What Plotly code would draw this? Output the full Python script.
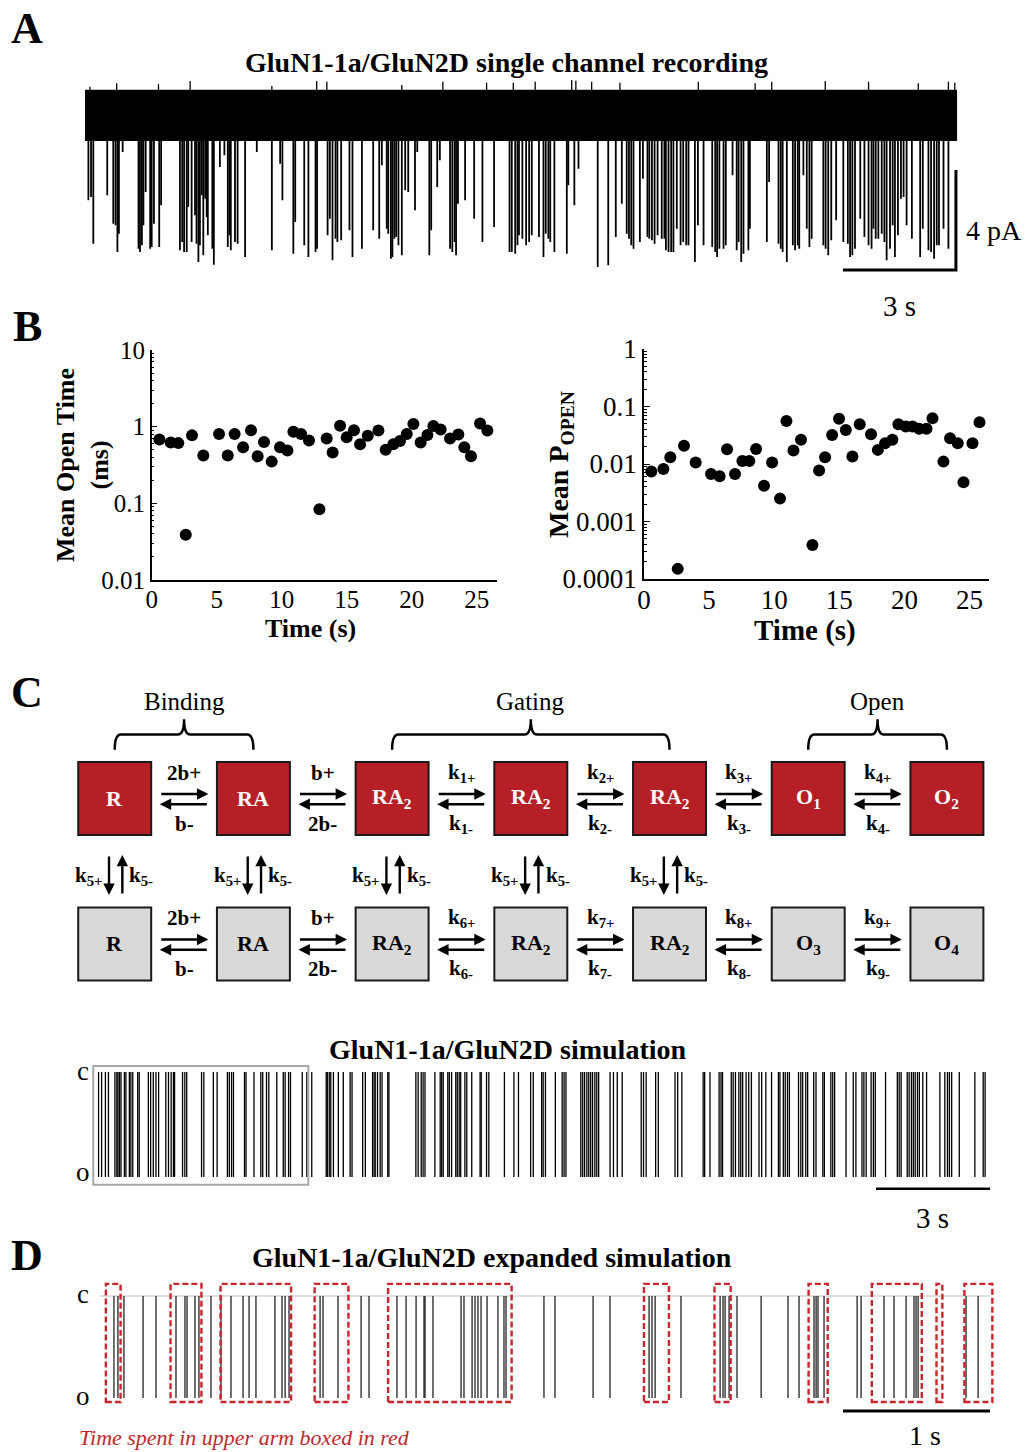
import plotly.graph_objects as go

W, H = 1030, 1452
FONT = "Liberation Serif"
RED = "#b71f27"
BOX_RED = "#c8272d"


def fx(p):
    return p / W


def fy(p):
    return 1 - p / H


# ---------------- Panel A: single channel recording ----------------
# (time s, peak current pA) for each resolved opening below the noise band
recording_openings = [
    (0.09, -3.37), (0.16, -3.24), (0.22, -5.11), (0.59, -3.17), (0.75, -4.31), (0.81, -4.37),
    (0.86, -5.44), (0.90, -4.71), (1.00, -1.44), (1.42, -5.31), (1.46, -5.44), (1.51, -5.17),
    (1.55, -4.37), (1.61, -3.04), (1.73, -5.31), (1.77, -5.24), (1.83, -4.31), (1.97, -5.24),
    (2.02, -3.57), (2.52, -5.37), (2.58, -5.04), (2.63, -5.44), (2.70, -5.44), (2.74, -3.64),
    (2.83, -5.04), (2.92, -3.97), (2.96, -5.11), (3.01, -5.84), (3.05, -5.17), (3.10, -3.17),
    (3.14, -5.57), (3.19, -3.31), (3.23, -4.04), (3.26, -4.77), (3.38, -5.31), (3.42, -5.95),
    (3.58, -2.04), (3.70, -1.57), (3.79, -5.24), (3.83, -4.77), (3.87, -5.37), (3.98, -5.04),
    (4.05, -5.11), (4.25, -5.64), (4.56, -1.44), (4.96, -5.37), (5.18, -1.91), (5.24, -3.37),
    (5.53, -5.51), (5.58, -4.24), (5.82, -5.17), (5.93, -5.64), (6.12, -5.44), (6.16, -5.31),
    (6.44, -4.77), (6.50, -4.11), (6.57, -5.77), (6.65, -4.91), (6.70, -5.04), (6.80, -4.97),
    (7.02, -4.57), (7.10, -5.64), (7.35, -5.31), (7.65, -4.57), (7.81, -4.91), (7.88, -1.97),
    (8.01, -4.51), (8.05, -4.71), (8.12, -5.71), (8.16, -5.64), (8.21, -4.91), (8.26, -4.84),
    (8.32, -5.17), (8.41, -5.57), (8.50, -2.97), (8.58, -3.04), (8.76, -3.77), (8.82, -1.44),
    (9.14, -5.57), (9.19, -4.57), (9.35, -2.84), (9.42, -1.77), (9.69, -5.31), (9.75, -5.44),
    (9.81, -5.04), (9.85, -5.57), (9.90, -3.51), (10.09, -3.37), (10.33, -4.11), (10.55, -5.04),
    (10.86, -4.44), (11.27, -5.44), (11.33, -5.44), (11.42, -5.51), (11.48, -5.17),
    (11.52, -4.77), (11.61, -4.91), (11.71, -5.17), (11.79, -5.04), (11.86, -4.77), (12.05, -4.84),
    (12.17, -5.64), (12.23, -4.71), (12.30, -4.91), (12.35, -5.04), (12.46, -5.44), (12.79, -5.51),
    (12.83, -2.77), (12.99, -3.57), (13.10, -2.11), (13.61, -6.04), (13.89, -5.97), (14.09, -4.84),
    (14.25, -3.51), (14.38, -4.71), (14.44, -4.91), (14.50, -5.17), (14.56, -5.31), (14.73, -5.04),
    (14.81, -2.51), (14.93, -4.84), (14.98, -4.91), (15.05, -4.97), (15.12, -5.11), (15.20, -4.77),
    (15.31, -4.91), (15.38, -4.91), (15.42, -5.37), (15.49, -5.44), (15.56, -5.44), (15.62, -5.44),
    (15.71, -4.51), (15.81, -5.17), (15.88, -5.04), (15.96, -5.17), (16.02, -5.17), (16.19, -5.84),
    (16.27, -4.37), (16.42, -5.17), (16.65, -5.24), (16.73, -5.44), (16.78, -5.64), (16.84, -5.31),
    (16.95, -5.31), (17.01, -5.17), (17.19, -2.37), (17.30, -5.37), (17.35, -5.04), (17.42, -5.84),
    (17.48, -5.51), (17.61, -5.37), (17.65, -4.51), (18.10, -5.04), (18.16, -2.64), (18.41, -5.11),
    (18.47, -5.31), (18.52, -5.44), (18.63, -5.84), (18.79, -5.17), (18.85, -5.37), (18.92, -5.17),
    (18.96, -5.31), (19.07, -2.37), (19.16, -4.51), (19.23, -5.24), (19.29, -4.91), (19.60, -5.17),
    (19.66, -5.31), (19.73, -5.57), (19.81, -4.97), (19.94, -4.17), (20.13, -5.04), (20.25, -5.11),
    (20.31, -5.64), (20.37, -5.57), (20.44, -5.31), (20.58, -4.11), (20.69, -4.84), (20.80, -5.17),
    (20.88, -5.31), (20.93, -4.51), (20.99, -4.91), (21.06, -4.91), (21.15, -4.71), (21.22, -5.04),
    (21.28, -5.77), (21.37, -5.31), (21.44, -4.37), (21.50, -5.64), (21.58, -4.77), (21.66, -3.31),
    (21.73, -3.24), (21.81, -4.37), (21.95, -4.91), (22.17, -5.64), (22.24, -4.51), (22.39, -5.37),
    (22.46, -5.44), (22.54, -5.71), (22.61, -5.17), (22.67, -5.17), (22.79, -4.51), (22.92, -5.31),
]
# largest upward noise excursions above the baseline band (time s, pA)
recording_noise_peaks = [
    (0.13, 1.17), (0.84, 1.31), (1.95, 1.28), (2.79, 1.40), (4.96, 1.20), (6.15, 1.40),
    (6.42, 1.37), (8.41, 1.24), (9.50, 1.37), (10.66, 1.33), (11.37, 1.33), (11.95, 1.37),
    (12.92, 1.44), (13.03, 1.41), (13.45, 1.37), (14.20, 1.33), (16.28, 1.37), (17.79, 1.31),
    (18.23, 1.37), (19.65, 1.40), (20.80, 1.37), (22.12, 1.31), (22.92, 1.37), (23.09, 1.33),
]
recording_span = [0.0, 23.15]   # s
noise_band = [-1.0, 1.05]       # pA, baseline noise envelope
rec_bar_end = (23.12, -6.16)    # scale bar corner (s, pA)
rec_bar_pA, rec_bar_s = 4, 3

# ---------------- Panel B: open time and Popen over time ----------------
mot_time = [0.59, 1.46, 2.05, 2.62, 3.10, 3.97, 5.18, 5.85, 6.38, 7.03, 7.64, 8.15, 8.64, 9.23,
            9.87, 10.44, 10.90, 11.49, 12.10, 12.90, 13.46, 13.92, 14.49, 15.00, 15.56, 16.03,
            16.62, 17.44, 18.00, 18.59, 19.10, 19.62, 20.13, 20.69, 21.21, 21.67, 22.23, 22.95,
            23.59, 24.05, 24.56, 25.26, 25.82]
mot_ms = [0.68, 0.62, 0.61, 0.039, 0.77, 0.42, 0.80, 0.42, 0.80, 0.54, 0.90, 0.41, 0.63, 0.35,
          0.54, 0.49, 0.86, 0.80, 0.66, 0.084, 0.70, 0.46, 1.03, 0.73, 0.90, 0.59, 0.76, 0.89,
          0.50, 0.59, 0.65, 0.80, 1.08, 0.62, 0.78, 1.02, 0.92, 0.70, 0.79, 0.54, 0.41, 1.10, 0.89]

popen_time = [0.56, 1.49, 2.02, 2.59, 3.07, 3.97, 5.15, 5.81, 6.38, 6.99, 7.56, 8.09, 8.61, 9.22,
              9.84, 10.45, 10.94, 11.48, 12.06, 12.94, 13.45, 13.91, 14.45, 14.98, 15.50, 16.01,
              16.57, 17.44, 17.96, 18.52, 19.08, 19.54, 20.11, 20.62, 21.13, 21.70, 22.16, 23.00,
              23.51, 24.10, 24.54, 25.23, 25.77]
popen = [0.0074, 0.0082, 0.0131, 0.00015, 0.0207, 0.0106, 0.0067, 0.0061, 0.0181, 0.0067, 0.0113,
         0.0113, 0.0183, 0.0042, 0.0106, 0.0025, 0.056, 0.0171, 0.0263, 0.00039, 0.0077, 0.0131,
         0.032, 0.061, 0.039, 0.0135, 0.049, 0.033, 0.0176, 0.023, 0.0263, 0.049, 0.045, 0.045,
         0.041, 0.041, 0.0625, 0.011, 0.028, 0.023, 0.0048, 0.023, 0.053]
time_ticks = [0, 5, 10, 15, 20, 25]
mot_ticks = [0.01, 0.1, 1, 10]
mot_ticktext = ["0.01", "0.1", "1", "10"]
popen_ticks = [0.0001, 0.001, 0.01, 0.1, 1]
popen_ticktext = ["0.0001", "0.001", "0.01", "0.1", "1"]

# ---------------- Panel C: kinetic scheme ----------------
upper_states = ["R", "RA", "RA<sub>2</sub>", "RA<sub>2</sub>", "RA<sub>2</sub>", "O<sub>1</sub>", "O<sub>2</sub>"]
lower_states = ["R", "RA", "RA<sub>2</sub>", "RA<sub>2</sub>", "RA<sub>2</sub>", "O<sub>3</sub>", "O<sub>4</sub>"]
upper_fwd = ["2b+", "b+", "k<sub>1+</sub>", "k<sub>2+</sub>", "k<sub>3+</sub>", "k<sub>4+</sub>"]
upper_bwd = ["b-", "2b-", "k<sub>1-</sub>", "k<sub>2-</sub>", "k<sub>3-</sub>", "k<sub>4-</sub>"]
lower_fwd = ["2b+", "b+", "k<sub>6+</sub>", "k<sub>7+</sub>", "k<sub>8+</sub>", "k<sub>9+</sub>"]
lower_bwd = ["b-", "2b-", "k<sub>6-</sub>", "k<sub>7-</sub>", "k<sub>8-</sub>", "k<sub>9-</sub>"]
cross_columns = [0, 1, 2, 3, 4]
cross_down, cross_up = "k<sub>5+</sub>", "k<sub>5-</sub>"
groups = [("Binding", 0, 1), ("Gating", 2, 4), ("Open", 5, 6)]

# ---------------- Panel C: simulated openings (s) ----------------
sim_openings = [
    0.12, 0.20, 0.30, 0.38, 0.55, 0.60, 0.63, 0.67, 0.71, 0.80, 0.84, 0.93, 0.97, 1.02, 1.15, 1.19,
    1.43, 1.49, 1.56, 1.63, 1.70, 1.89, 1.96, 2.03, 2.09, 2.12, 2.33, 2.39, 2.44, 2.83, 2.89, 3.14,
    3.24, 3.51, 3.56, 3.62, 3.67, 3.96, 4.00, 4.21, 4.39, 4.44, 4.54, 4.60, 4.81, 4.98, 5.03, 5.12,
    5.17, 5.48, 5.60, 5.73, 6.11, 6.14, 6.19, 6.23, 6.30, 6.43, 6.56, 6.74, 6.79, 7.07, 7.14, 7.33,
    7.37, 7.40, 7.46, 7.53, 7.58, 7.73, 7.76, 8.47, 8.53, 8.61, 8.66, 8.71, 8.97, 9.11, 9.15, 9.19,
    9.31, 9.35, 9.41, 9.52, 9.56, 9.61, 9.65, 9.76, 9.81, 9.94, 10.16, 10.19, 10.33, 10.39, 10.80,
    11.05, 11.17, 11.49, 11.56, 11.78, 11.82, 11.88, 12.14, 12.32, 12.37, 12.42, 12.81, 12.86,
    12.91, 12.97, 13.02, 13.07, 13.12, 13.18, 13.23, 13.28, 13.58, 13.67, 13.77, 13.90, 14.40,
    14.46, 14.53, 14.78, 14.85, 15.29, 15.36, 15.47, 16.03, 16.07, 16.21, 16.45, 16.50, 16.54,
    16.77, 16.82, 16.88, 16.97, 17.02, 17.07, 17.16, 17.23, 17.30, 17.50, 17.57, 17.68, 17.83,
    18.01, 18.05, 18.14, 18.19, 18.25, 18.30, 18.54, 18.60, 18.65, 18.73, 18.78, 18.94, 19.00,
    19.18, 19.22, 19.39, 19.44, 19.49, 19.79, 19.98, 20.05, 20.21, 20.26, 20.32, 20.45, 20.51,
    20.56, 20.83, 21.14, 21.19, 21.24, 21.40, 21.45, 21.51, 21.56, 21.61, 21.67, 21.72, 21.81,
    21.91, 22.26, 22.39, 22.46, 22.51, 22.57, 22.77, 23.18, 23.40, 23.45,
]
sim_window = [-0.02, 5.64]          # expanded segment shown in D (s)
sim_bar_end, sim_bar_s = 23.58, 3

# ---------------- Panel D: expanded simulation (s) ----------------
exp_openings = [
    0.095, 0.122, 0.163, 0.293, 0.381, 0.517, 0.578, 0.592, 0.646, 0.673, 0.755, 0.823, 0.891,
    0.973, 1.014, 1.061, 1.190, 1.238, 1.259, 1.286, 1.497, 1.517, 1.619, 1.776, 1.830, 2.020,
    2.082, 2.150, 2.204, 2.211, 2.265, 2.456, 2.476, 2.531, 2.551, 2.571, 2.592, 2.633, 2.707,
    2.748, 2.762, 3.020, 3.095, 3.354, 3.469, 3.735, 3.755, 3.776, 3.952, 4.218, 4.238, 4.252,
    4.279, 4.333, 4.497, 4.680, 4.755, 4.857, 4.871, 4.884, 4.925, 5.150, 5.177, 5.333, 5.401,
    5.483, 5.537, 5.551, 5.565, 5.891, 5.973,
]
upper_arm_start = [0.04, 0.48, 0.82, 1.46, 1.96, 3.70, 4.18, 4.82, 5.25, 5.69, 5.88]
upper_arm_end = [0.14, 0.69, 1.30, 1.69, 2.80, 3.87, 4.29, 4.95, 5.59, 5.73, 6.07]
exp_span = [0.0, 6.05]
exp_bar_end, exp_bar_s = 6.054, 1

fig = go.Figure()


def sticks(times, lo, hi):
    xs, ys = [], []
    for t, h in zip(times, hi):
        xs += [t, t, None]
        ys += [lo, h, None]
    return xs, ys


# Panel A traces
fig.add_trace(go.Scatter(
    x=[recording_span[0], recording_span[1], recording_span[1], recording_span[0]],
    y=[noise_band[1], noise_band[1], noise_band[0], noise_band[0]],
    fill="toself", fillcolor="black", mode="lines", line=dict(width=0, color="black"),
    xaxis="x", yaxis="y", hoverinfo="skip"))
rt = [e[0] for e in recording_openings]
ra = [e[1] for e in recording_openings]
sx, sy = sticks(rt, noise_band[0] + 0.1, ra)
fig.add_trace(go.Scatter(x=sx, y=sy, mode="lines", line=dict(color="black", width=1.8),
                         xaxis="x", yaxis="y", hoverinfo="skip"))
nt = [e[0] for e in recording_noise_peaks]
nh = [e[1] for e in recording_noise_peaks]
sx, sy = sticks(nt, noise_band[1] - 0.1, nh)
fig.add_trace(go.Scatter(x=sx, y=sy, mode="lines", line=dict(color="black", width=1.3),
                         xaxis="x", yaxis="y", hoverinfo="skip"))
bx, by = rec_bar_end
fig.add_trace(go.Scatter(x=[bx - rec_bar_s, bx, bx], y=[by, by, by + rec_bar_pA], mode="lines",
                         line=dict(color="black", width=3), xaxis="x", yaxis="y", hoverinfo="skip"))

# Panel B scatters
fig.add_trace(go.Scatter(x=mot_time, y=mot_ms, mode="markers",
                         marker=dict(color="black", size=12), xaxis="x2", yaxis="y2"))
fig.add_trace(go.Scatter(x=popen_time, y=popen, mode="markers",
                         marker=dict(color="black", size=12), xaxis="x3", yaxis="y3"))

# Panel C simulation trace
sx, sy = sticks(sim_openings, 0, [1] * len(sim_openings))
fig.add_trace(go.Scatter(x=sx, y=sy, mode="lines", line=dict(color="black", width=1.3),
                         xaxis="x5", yaxis="y5", hoverinfo="skip"))
fig.add_trace(go.Scatter(x=[sim_bar_end - sim_bar_s, sim_bar_end], y=[-0.114, -0.114], mode="lines",
                         line=dict(color="black", width=3), xaxis="x5", yaxis="y5", hoverinfo="skip"))

# Panel D expanded trace
fig.add_trace(go.Scatter(x=exp_span, y=[1, 1], mode="lines", line=dict(color="#d4d4d4", width=1.5),
                         xaxis="x6", yaxis="y6", hoverinfo="skip"))
sx, sy = sticks(exp_openings, 0, [1] * len(exp_openings))
fig.add_trace(go.Scatter(x=sx, y=sy, mode="lines", line=dict(color="#111111", width=1.2),
                         xaxis="x6", yaxis="y6", hoverinfo="skip"))
fig.add_trace(go.Scatter(x=[exp_bar_end - exp_bar_s, exp_bar_end], y=[-0.127, -0.127], mode="lines",
                         line=dict(color="black", width=3), xaxis="x6", yaxis="y6", hoverinfo="skip"))

shapes = []
annotations = []

# simulation window and upper-arm boxes
shapes.append(dict(type="rect", xref="x5", yref="y5", x0=sim_window[0], x1=sim_window[1],
                   y0=-0.073, y1=1.057, line=dict(color="#a8a8a8", width=2)))
for s0, s1 in zip(upper_arm_start, upper_arm_end):
    shapes.append(dict(type="rect", xref="x6", yref="y6", x0=s0, x1=s1, y0=-0.039, y1=1.118,
                       line=dict(color=BOX_RED, width=2.4, dash="6px,3px")))

# kinetic scheme boxes
HALF_W, HALF_H = 0.263, 0.251
for row, states, fill, tcolor in [(1, upper_states, RED, "white"), (0, lower_states, "#d9d9d9", "black")]:
    for c, name in enumerate(states):
        shapes.append(dict(type="rect", xref="x4", yref="y4", x0=c - HALF_W, x1=c + HALF_W,
                           y0=row - HALF_H, y1=row + HALF_H, fillcolor=fill,
                           line=dict(color="#1a1a1a", width=2)))
        annotations.append(dict(x=c, y=row, xref="x4", yref="y4", text=f"<b>{name}</b>",
                                showarrow=False, font=dict(family=FONT, size=22, color=tcolor)))


def arrow(x, y, ax, ay):
    return dict(x=x, y=y, ax=ax, ay=ay, xref="x4", yref="y4", axref="x4", ayref="y4",
                text="", showarrow=True, arrowhead=2, arrowsize=0.95, arrowwidth=2.4,
                arrowcolor="black", standoff=0, startstandoff=0)


for row, fwd, bwd in [(1, upper_fwd, upper_bwd), (0, lower_fwd, lower_bwd)]:
    for i in range(6):
        annotations.append(arrow(i + 0.675, row + 0.031, i + 0.325, row + 0.031))
        annotations.append(arrow(i + 0.325, row - 0.040, i + 0.675, row - 0.040))
        annotations.append(dict(x=i + 0.5, y=row + 0.178, xref="x4", yref="y4", text=f"<b>{fwd[i]}</b>",
                                showarrow=False, font=dict(family=FONT, size=21, color="black")))
        annotations.append(dict(x=i + 0.5, y=row - 0.175, xref="x4", yref="y4", text=f"<b>{bwd[i]}</b>",
                                showarrow=False, font=dict(family=FONT, size=21, color="black")))

for c in cross_columns:
    annotations.append(arrow(c - 0.041, 0.337, c - 0.041, 0.612))
    annotations.append(arrow(c + 0.055, 0.612, c + 0.055, 0.337))
    annotations.append(dict(x=c - 0.078, y=0.47, xref="x4", yref="y4", xanchor="right",
                            text=f"<b>{cross_down}</b>", showarrow=False,
                            font=dict(family=FONT, size=21, color="black")))
    annotations.append(dict(x=c + 0.092, y=0.47, xref="x4", yref="y4", xanchor="left",
                            text=f"<b>{cross_up}</b>", showarrow=False,
                            font=dict(family=FONT, size=21, color="black")))

# group braces
Y_END, Y_LINE, Y_TIP, R = 1.335, 1.44, 1.545, 0.045
for label_text, c0, c1 in groups:
    m = (c0 + c1) / 2
    path = (f"M {c0},{Y_END} Q {c0},{Y_LINE} {c0 + R},{Y_LINE} L {m - R},{Y_LINE} "
            f"Q {m},{Y_LINE} {m},{Y_TIP} Q {m},{Y_LINE} {m + R},{Y_LINE} "
            f"L {c1 - R},{Y_LINE} Q {c1},{Y_LINE} {c1},{Y_END}")
    shapes.append(dict(type="path", xref="x4", yref="y4", path=path,
                       line=dict(color="black", width=2.5)))
    annotations.append(dict(x=m, y=1.665, xref="x4", yref="y4", text=label_text, showarrow=False,
                            font=dict(family=FONT, size=25, color="black")))


def label(xp, yp, text, size, xanchor="center", color="black", angle=0):
    annotations.append(dict(x=fx(xp), y=fy(yp), xref="paper", yref="paper", text=text,
                            showarrow=False, xanchor=xanchor, yanchor="middle", textangle=angle,
                            font=dict(family=FONT, size=size, color=color)))


label(27, 29, "<b>A</b>", 44)
label(27, 327, "<b>B</b>", 44)
label(27, 692, "<b>C</b>", 44)
label(27, 1255, "<b>D</b>", 44)
label(506, 62, "<b>GluN1-1a/GluN2D single channel recording</b>", 28)
label(964, 230, "4 pA", 28, xanchor="left")
label(899, 306, "3 s", 29)
label(82, 465, "<b>Mean Open Time<br>(ms)</b>", 26, angle=-90)
label(560, 465, "<b>Mean P<sub>OPEN</sub></b>", 28, angle=-90)
label(310, 628, "<b>Time (s)</b>", 26)
label(805, 630, "<b>Time (s)</b>", 29)
label(507, 1049, "<b>GluN1-1a/GluN2D simulation</b>", 28)
label(83, 1071, "c", 27)
label(83, 1172, "o", 27)
label(932, 1218, "3 s", 29)
label(492, 1257, "<b>GluN1-1a/GluN2D expanded simulation</b>", 28)
label(83, 1294, "c", 27)
label(83, 1396, "o", 27)
label(925, 1435, "1 s", 28)
label(77, 1437, "<i>Time spent in upper arm boxed in red</i>", 22, xanchor="left", color="#c0282d")

hidden = dict(visible=False, showgrid=False, zeroline=False, fixedrange=True)
tickfont = dict(family=FONT, size=25, color="black")


def minor_log(lo, hi):
    vals = []
    for d in range(lo, hi):
        for k in range(2, 10):
            vals.append(k * 10 ** d)
    return vals


fig.update_layout(
    width=W, height=H, margin=dict(l=0, r=0, t=0, b=0, pad=0, autoexpand=False),
    paper_bgcolor="white", plot_bgcolor="rgba(0,0,0,0)", showlegend=False,
    shapes=shapes, annotations=annotations,
    xaxis=dict(domain=[fx(60), fx(1010)], range=[-0.664, 24.555], anchor="y", **hidden),
    yaxis=dict(domain=[fy(280), fy(70)], range=[-6.56, 1.84], anchor="x", **hidden),
    xaxis2=dict(domain=[fx(151.7), fx(496.7)], range=[0, 26.54], anchor="y2",
                showline=True, linecolor="black", linewidth=1.5, ticks="", showgrid=False,
                zeroline=False, tickvals=time_ticks, tickfont=tickfont, ticklabelstandoff=-4,
                automargin=False),
    yaxis2=dict(domain=[fy(580), fy(350)], type="log", range=[-2, 1], anchor="x2",
                showline=True, linecolor="black", linewidth=1.5, ticks="inside", ticklen=6,
                tickcolor="black", showgrid=False, zeroline=False, tickvals=mot_ticks,
                ticktext=mot_ticktext, tickfont=tickfont, automargin=False,
                minor=dict(ticks="inside", ticklen=3, tickcolor="black", tickvals=minor_log(-2, 1))),
    xaxis3=dict(domain=[fx(644), fx(989)], range=[0, 26.5], anchor="y3",
                showline=True, linecolor="black", linewidth=1.5, ticks="", showgrid=False,
                zeroline=False, tickvals=time_ticks, ticklabelstandoff=-4, automargin=False,
                tickfont=dict(family=FONT, size=27, color="black")),
    yaxis3=dict(domain=[fy(579), fy(349)], type="log", range=[-4, 0], anchor="x3",
                showline=True, linecolor="black", linewidth=1.5, ticks="inside", ticklen=6,
                tickcolor="black", showgrid=False, zeroline=False, tickvals=popen_ticks,
                ticktext=popen_ticktext, tickfont=dict(family=FONT, size=27, color="black"),
                automargin=False,
                minor=dict(ticks="inside", ticklen=3, tickcolor="black", tickvals=minor_log(-4, 0))),
    xaxis4=dict(domain=[0, 1], range=[-0.827, 6.599], anchor="y4", **hidden),
    yaxis4=dict(domain=[fy(1000), fy(680)], range=[-0.385, 1.814], anchor="x4", **hidden),
    xaxis5=dict(domain=[fx(60), fx(1010)], range=[-0.895, 24.105], anchor="y5", **hidden),
    yaxis5=dict(domain=[fy(1190), fy(1060)], range=[-0.124, 1.114], anchor="x5", **hidden),
    xaxis6=dict(domain=[fx(60), fx(1010)], range=[-0.272, 6.190], anchor="y6", **hidden),
    yaxis6=dict(domain=[fy(1415), fy(1278)], range=[-0.167, 1.176], anchor="x6", **hidden),
)

fig.write_html("out.html")
